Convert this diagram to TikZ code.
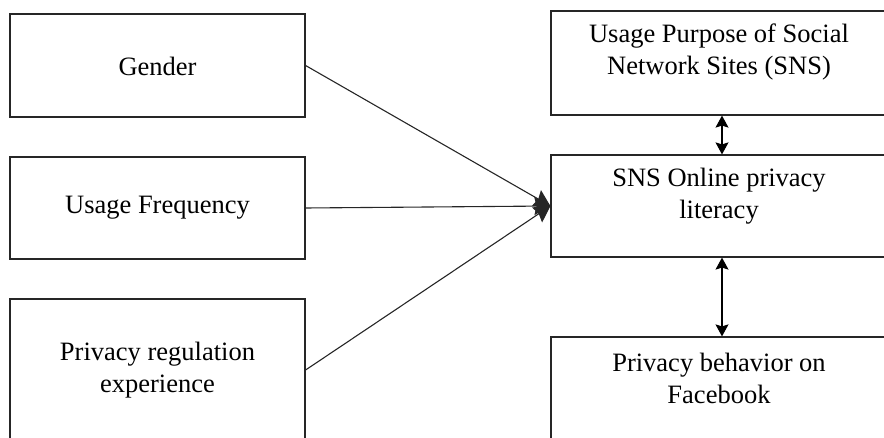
\documentclass[tikz,border=0pt]{standalone}
\usepackage{fontspec}
\setmainfont{Liberation Serif}
\usetikzlibrary{arrows.meta,calc}
\tikzset{
  box/.style={draw=black!85, line width=1.2pt, rectangle, inner sep=0pt},
  txt/.style={align=center, inner sep=0pt, font=\fontsize{26.5}{32}\selectfont},
  conn/.style={line width=1.1pt, draw=black!85, -{Stealth[length=16pt,width=18pt,inset=2pt]}},
  dconn/.style={line width=1.1pt, {Stealth[length=12pt,width=13pt,inset=2pt]}-{Stealth[length=12pt,width=13pt,inset=2pt]}}
}
\begin{document}
\begin{tikzpicture}[x=1pt,y=-1pt]
\useasboundingbox (0,0) rectangle (884,438);
\clip (0,0) rectangle (884,438);
% left boxes
\node[box, minimum width=295pt, minimum height=103pt] (g) at (157.5,65.5) {};
\node[txt] (gt) at (157.5,66) {Gender};
\node[box, minimum width=295pt, minimum height=102pt] (uf) at (157.5,208) {};
\node[txt] (uft) at (157.5,208) {Usage Frequency};
\node[box, minimum width=295pt, minimum height=142pt] (pr) at (157.5,370) {};
\node[txt] (prt) at (157.5,370) {Privacy regulation\\experience};
% right boxes
\node[box, minimum width=342pt, minimum height=104pt] (up) at (722,63) {};
\node[txt] (upt) at (719,52) {Usage Purpose of Social\\Network Sites (SNS)};
\node[box, minimum width=342pt, minimum height=102pt] (sns) at (722,206) {};
\node[txt] (snst) at (719,196) {SNS Online privacy\\literacy};
\node[box, minimum width=342pt, minimum height=120pt] (pb) at (722,397) {};
\node[txt] (pbt) at (719,378) {Privacy behavior on\\Facebook};
% connectors
\draw[conn] (g.east) -- (sns.west);
\draw[conn] (uf.east) -- (sns.west);
\draw[conn] (pr.east) -- (sns.west);
\draw[dconn] (up.south) -- (sns.north);
\draw[dconn] (sns.south) -- (pb.north);
\end{tikzpicture}
\end{document}
